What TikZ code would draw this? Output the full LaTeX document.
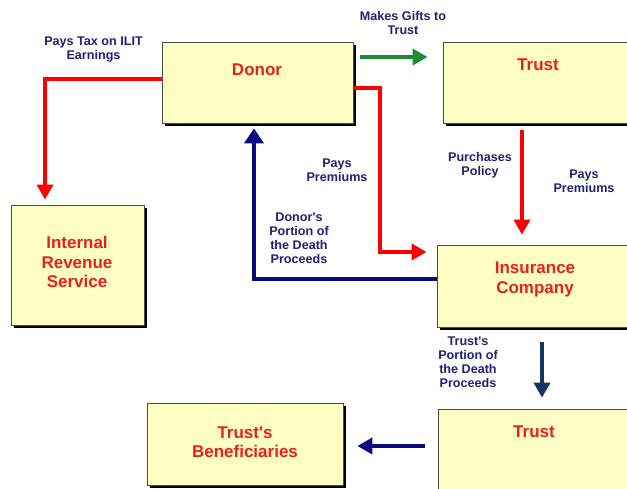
\documentclass[tikz,border=0pt]{standalone}
\usepackage{fontspec}
\setmainfont{Liberation Sans}
\usetikzlibrary{arrows.meta,shadows}
\definecolor{boxfill}{RGB}{255,255,196}
\definecolor{boxtxt}{RGB}{232,32,32}
\definecolor{lbl}{RGB}{32,32,120}
\definecolor{redarr}{RGB}{255,0,0}
\definecolor{greenarr}{RGB}{30,140,50}
\definecolor{bluearr}{RGB}{10,10,128}
\definecolor{navyarr}{RGB}{22,52,98}
\begin{document}
\begin{tikzpicture}[x=1pt,y=-1pt,
 box/.style={draw=black!70, line width=0.8pt, fill=boxfill,
   drop shadow={shadow xshift=3pt, shadow yshift=-3pt, fill=black, opacity=1},
   inner sep=0pt},
 boxtext/.style={text=boxtxt, font=\fontsize{17}{19.5}\selectfont\bfseries, align=center, inner sep=0pt},
 lbltext/.style={text=lbl, font=\fontsize{12.6}{14}\selectfont\bfseries, align=center, inner sep=0pt},
 flow/.style={line width=4.5pt, -{Triangle[length=15pt,width=16pt]}},
]
\useasboundingbox (0,0) rectangle (627,489);
\clip (0,0) rectangle (627,489);
\fill[white] (0,0) rectangle (627,489);

% boxes
\node[box, minimum width=191pt, minimum height=81pt] (donor) at (257.5,82.5) {};
\node[box, minimum width=190pt, minimum height=81pt] (trust1) at (538,82.5) {};
\node[box, minimum width=133pt, minimum height=120pt] (irs) at (77.5,265) {};
\node[box, minimum width=193pt, minimum height=82pt] (insurance) at (533.5,286) {};
\node[box, minimum width=192pt, minimum height=82pt] (trust2) at (534,450) {};
\node[box, minimum width=196pt, minimum height=82pt] (benef) at (245,444) {};

% box texts
\node[boxtext] (tdonor) at (257,70) {Donor};
\node[boxtext] (ttrust1) at (538,65) {Trust};
\node[boxtext] (tirs) at (77,262) {Internal\\Revenue\\Service};
\node[boxtext] (tins) at (535,279.5) {Insurance\\Company};
\node[boxtext] (ttrust2) at (534,432) {Trust};
\node[boxtext] (tbenef) at (245,442) {Trust\textquotesingle s\\Beneficiaries};

% labels
\node[lbltext] (l1) at (93.5,50) {Pays Tax on ILIT\\Earnings};
\node[lbltext] (l2) at (403,23) {Makes Gifts to\\Trust};
\node[lbltext] (l3) at (337,170) {Pays\\Premiums};
\node[lbltext] (l4) at (480,165) {Purchases\\Policy};
\node[lbltext] (l5) at (584,181) {Pays\\Premiums};
\node[lbltext] (l6) at (299,238) {Donor\textquotesingle s\\Portion of\\the Death\\Proceeds};
\node[lbltext] (l7) at (468,362) {Trust\textquotesingle s\\Portion of\\the Death\\Proceeds};

% connectors
\coordinate (taxc) at (45,79);
\draw[flow, draw=redarr, shorten >=5pt] (donor.west |- taxc) -- (taxc) -- (taxc |- irs.north);

\coordinate (giftc) at (0,57);
\draw[flow, draw=greenarr, shorten <=7pt, shorten >=15pt] (donor.east |- giftc) -- (trust1.west |- giftc);

\coordinate (premc) at (380,88);
\coordinate (premd) at (380,252);
\draw[flow, draw=redarr, shorten >=10pt] (donor.east |- premc) -- (premc) -- (premd) -- (insurance.west |- premd);

\coordinate (purc) at (522,0);
\draw[flow, draw=redarr, shorten <=7pt, shorten >=10pt] (trust1.south -| purc) -- (insurance.north -| purc);

\coordinate (donc) at (254,279);
\draw[flow, draw=bluearr, shorten >=5pt, -{Triangle[length=15pt,width=19pt]}] (insurance.west |- donc) -- (donc) -- (donc |- donor.south);

\coordinate (tpc) at (542,0);
\draw[flow, draw=navyarr, line width=4pt, shorten <=15pt, shorten >=11pt] (insurance.south -| tpc) -- (trust2.north -| tpc);

\coordinate (benc) at (0,446);
\draw[flow, draw=bluearr, shorten <=13pt, shorten >=14pt] (trust2.west |- benc) -- (benef.east |- benc);
\end{tikzpicture}
\end{document}
